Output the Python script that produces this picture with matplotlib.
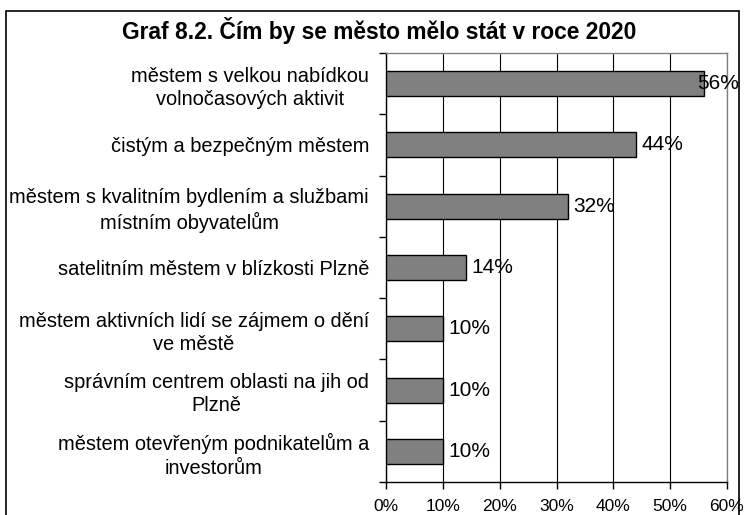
import matplotlib
matplotlib.use("Agg")
import matplotlib.pyplot as plt
from matplotlib.patches import Rectangle

plt.rcParams['font.family'] = ['Liberation Sans', 'DejaVu Sans']

title = "Graf 8.2. Čím by se město mělo stát v roce 2020"
categories = [
    "městem s velkou nabídkou\nvolnočasových aktivit",
    "čistým a bezpečným městem",
    "městem s kvalitním bydlením a službami\nmístním obyvatelům",
    "satelitním městem v blízkosti Plzně",
    "městem aktivních lidí se zájmem o dění\nve městě",
    "správním centrem oblasti na jih od\nPlzně",
    "městem otevřeným podnikatelům a\ninvestorům",
]
values = [56, 44, 32, 14, 10, 10, 10]
xticks = [0, 10, 20, 30, 40, 50, 60]
xticklabels = ["0%", "10%", "20%", "30%", "40%", "50%", "60%"]

W, H = 744, 515
fig = plt.figure(figsize=(W / 100, H / 100), dpi=100)
# outer frame
fig.patches.append(Rectangle((6 / W, -0.1), (739 - 6) / W, 1.1 - 11 / H,
                             transform=fig.transFigure, fill=False,
                             edgecolor='black', linewidth=1.2))

left, right, top, bottom = 386, 727, 53, 482
ax = fig.add_axes([left / W, 1 - bottom / H, (right - left) / W, (bottom - top) / H])

n = len(categories)
ypos = list(range(n))
ax.barh(ypos, values, height=0.41, color='#808080', edgecolor='black',
        linewidth=1.0, zorder=3)
ax.set_ylim(n - 0.5, -0.5)
ax.set_xlim(0, 60)

ax.set_xticks(xticks)
ax.set_xticklabels(xticklabels, fontsize=12.5)
ax.set_yticks(ypos)
ax.set_yticklabels(categories, fontsize=14.4, multialignment='center',
                   linespacing=1.28)
ax.tick_params(axis='y', length=0, pad=12.2)
ax.set_yticks([i - 0.5 for i in range(n + 1)], minor=True)
ax.tick_params(axis='y', which='minor', length=5, width=1, direction='out')
ax.tick_params(axis='x', length=5, width=1, direction='out', pad=7.5)

ax.grid(axis='x', color='black', linewidth=0.8, zorder=0)
for s in ['left', 'bottom']:
    ax.spines[s].set_color('black')
    ax.spines[s].set_linewidth(1.0)
for s in ['top', 'right']:
    ax.spines[s].set_color('#808080')
    ax.spines[s].set_linewidth(1.0)

for y, v in zip(ypos, values):
    ax.text(min(v + 1.0, 54.8), y, f"{v}%", va='center', ha='left',
            fontsize=15, zorder=4)

fig.text(0.5 * (122 + 636) / W, 1 - 31 / H, title, ha='center', va='center',
         fontsize=16.4, fontweight='bold')

fig.savefig("out.png", dpi=100)
